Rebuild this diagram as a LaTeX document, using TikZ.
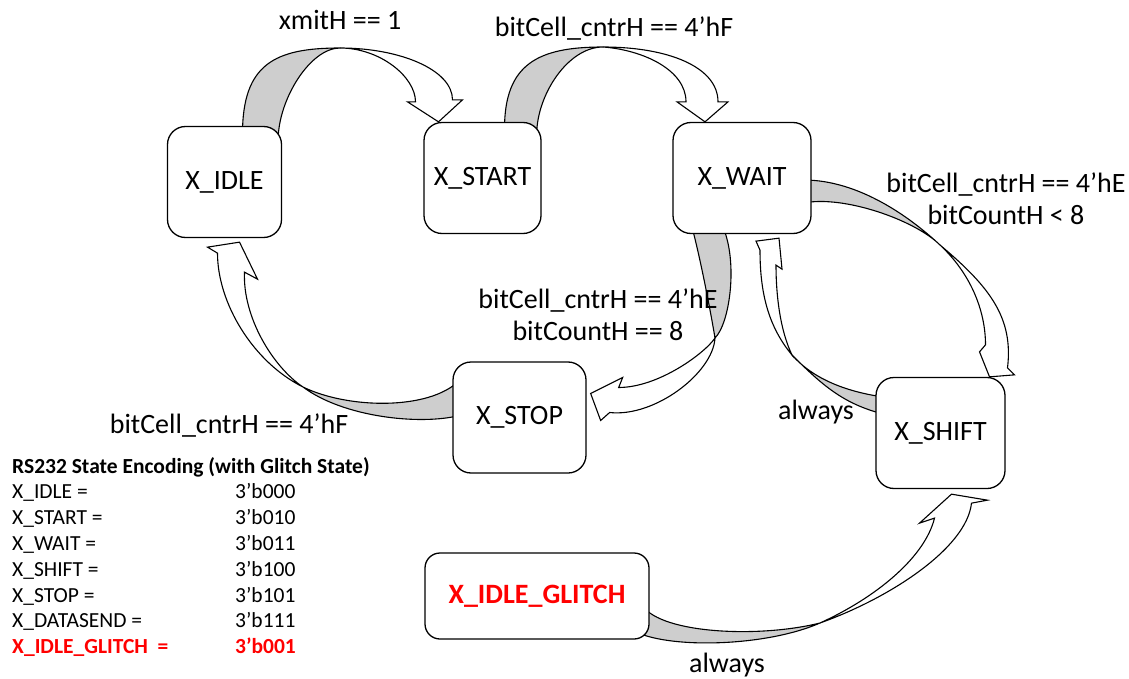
\documentclass[tikz,border=0pt]{standalone}
\usepackage{fontspec}
\setmainfont{Carlito}
\usetikzlibrary{positioning,calc,backgrounds}
\definecolor{bandgray}{RGB}{206,206,206}

\begin{document}
\begin{tikzpicture}[x=1pt,y=-1pt]

\tikzset{every node/.style = {font=\fontsize{28}{32}\selectfont}}
\tikzstyle{state} = [rectangle, draw, fill=white, rounded corners=18pt, line width=1.3pt, minimum width=114pt, minimum height=111pt, inner sep=0pt]
\tikzstyle{band} = [draw, fill=bandgray, line width=1.1pt, line join=round]
\tikzstyle{head} = [draw, fill=white, line width=1.1pt, line join=miter]

\useasboundingbox (0,0) rectangle (1129,679);

\node[state]                                    (idle)   at (224.5,182) {X\_IDLE};
\node[state, minimum width=117pt]               (start)  at (482.5,178) {X\_START};
\node[state, minimum width=138pt]               (wait)   at (742,178)   {X\_WAIT};
\node[state, minimum width=133pt]               (stop)   at (519.5,417.5) {X\_STOP};
\node[state, minimum width=129pt]               (shift)  at (940.5,433) {X\_SHIFT};
\node[state, minimum width=224pt, minimum height=86pt, rounded corners=15pt,
      text=red, font=\fontsize{28}{32}\selectfont\bfseries] (glitch) at (537,596) {X\_IDLE\_GLITCH};

\node                (l_xmit)  at (340,20)  {xmitH == 1};
\node                (l_start) at (614,29)  {bitCell\_cntrH == 4’hF};
\node[align=center]  (l_shift) at (1006,199) {bitCell\_cntrH == 4’hE\\bitCountH < 8};
\node[align=center]  (l_stop)  at (598,315) {bitCell\_cntrH == 4’hE\\bitCountH == 8};
\node                (l_idle)  at (229,426) {bitCell\_cntrH == 4’hF};
\node                (l_back)  at (816,412) {always};
\node                (l_glt)   at (727,665) {always};

\node[anchor=base west, inner sep=0pt, font=\fontsize{21.5}{25.8}\selectfont] (enc) at (12,473)
  {\begin{tabular}[t]{@{}p{223pt}@{}l@{}}
   \multicolumn{2}{@{}l@{}}{\bfseries RS232 State Encoding (with Glitch State)}\\
   X\_IDLE =      & 3’b000\\
   X\_START =     & 3’b010\\
   X\_WAIT =      & 3’b011\\
   X\_SHIFT =     & 3’b100\\
   X\_STOP =      & 3’b101\\
   X\_DATASEND =  & 3’b111\\
   \textcolor{red}{\bfseries X\_IDLE\_GLITCH\ \ =} & \textcolor{red}{\bfseries 3’b001}
   \end{tabular}};

% band ends and arrow heads
\coordinate (a1s1) at ($(idle.north)+(18,8)$);
\coordinate (a1s2) at ($(idle.north east)+(-4,14)$);
\coordinate (a1x)  at (340,48);
\coordinate (a1t)  at ($(start.north)+(-44,0)$);
\coordinate (a1h1) at ($(a1t)+(-23,-20)$);
\coordinate (a1b1) at ($(a1t)+(-31,-20)$);
\coordinate (a1b2) at ($(a1t)+(24,-22)$);
\coordinate (a1h2) at ($(a1t)+(14,-22)$);

\coordinate (a2s1) at ($(start.north)+(22,7)$);
\coordinate (a2s2) at ($(start.north east)+(-5,13)$);
\coordinate (a2x)  at (603,47);
\coordinate (a2t)  at ($(wait.north)+(-37,0)$);
\coordinate (a2h1) at ($(a2t)+(-19,-20)$);
\coordinate (a2b1) at ($(a2t)+(-28,-20)$);
\coordinate (a2b2) at ($(a2t)+(23,-20)$);
\coordinate (a2h2) at ($(a2t)+(13,-20)$);

\coordinate (a3s1) at ($(wait.east)+(-8,2)$);
\coordinate (a3s2) at ($(wait.east)+(-8,25)$);
\coordinate (a3x)  at (940,245);
\coordinate (a3t)  at ($(shift.north)+(49,0)$);
\coordinate (a3h1) at ($(a3t)+(-4,-32)$);
\coordinate (a3b1) at ($(a3t)+(-10,-25)$);
\coordinate (a3b2) at ($(a3t)+(25,-2)$);
\coordinate (a3h2) at ($(a3t)+(18,-9)$);

\coordinate (a4s1) at ($(shift.west)+(8,-36)$);
\coordinate (a4s2) at ($(shift.west)+(8,-19)$);
\coordinate (a4x)  at (792,355);
\coordinate (a4t)  at ($(wait.south)+(37,4)$);
\coordinate (a4h1) at ($(a4t)+(-19,12)$);
\coordinate (a4b1) at ($(a4t)+(-23,3)$);
\coordinate (a4b2) at ($(a4t)+(3,31)$);
\coordinate (a4h2) at ($(a4t)+(-3,27)$);

\coordinate (a5s1) at ($(wait.south)+(-50,-7)$);
\coordinate (a5s2) at ($(wait.south)+(-19,-7)$);
\coordinate (a5x)  at (715,338);
\coordinate (a5t)  at ($(stop.east)+(4,-24)$);
\coordinate (a5h1) at ($(a5t)+(28,-6)$);
\coordinate (a5b1) at ($(a5t)+(32,-16)$);
\coordinate (a5b2) at ($(a5t)+(10,27)$);
\coordinate (a5h2) at ($(a5t)+(19,19)$);

\coordinate (a6s1) at ($(stop.west)+(7,-37)$);
\coordinate (a6s2) at ($(stop.west)+(7,-2)$);
\coordinate (a6x)  at (303,387);
\coordinate (a6t)  at ($(idle.south)+(15,4)$);
\coordinate (a6h1) at ($(a6t)+(-22,11)$);
\coordinate (a6b1) at ($(a6t)+(-32,5)$);
\coordinate (a6b2) at ($(a6t)+(18,37)$);
\coordinate (a6h2) at ($(a6t)+(5,30)$);

\coordinate (a7s1) at ($(glitch.east)+(-7,10)$);
\coordinate (a7s2) at ($(glitch.east)+(-9,38)$);
\coordinate (a7x)  at (820,623);
\coordinate (a7t)  at ($(shift.south)+(11,5)$);
\coordinate (a7h1) at ($(a7t)+(-17,24)$);
\coordinate (a7b1) at ($(a7t)+(-32,29)$);
\coordinate (a7b2) at ($(a7t)+(36,6)$);
\coordinate (a7h2) at ($(a7t)+(20,9)$);

\begin{scope}[on background layer]
% idle -> start
\draw[band] (a1s1) .. controls +(0,-70) and +(-65,0) .. (a1x) .. controls +(-30,0) and +(0,-40) .. (a1s2) -- cycle;
\draw[head] (a1x) .. controls +(40,0) and +(0,-25) .. (a1h1) -- (a1b1) -- (a1t) -- (a1b2) -- (a1h2) .. controls +(0,-30) and +(60,0) .. (a1x) -- cycle;
% start -> wait
\draw[band] (a2s1) .. controls +(0,-65) and +(-65,0) .. (a2x) .. controls +(-35,0) and +(0,-40) .. (a2s2) -- cycle;
\draw[head] (a2x) .. controls +(40,3) and +(0,-32) .. (a2h1) -- (a2b1) -- (a2t) -- (a2b2) -- (a2h2) .. controls +(0,-35) and +(65,0) .. (a2x) -- cycle;
% wait -> shift
\draw[band] (a3s1) .. controls +(55,0) and +(-30,-28) .. (a3x) .. controls +(-25,-25) and +(40,-8) .. (a3s2) -- cycle;
\draw[head] (a3x) .. controls +(30,28) and +(0,-35) .. (a3h1) -- (a3b1) -- (a3t) -- (a3b2) -- (a3h2) .. controls +(6,-50) and +(50,42) .. (a3x) -- cycle;
% shift -> wait
\draw[band] (a4s1) .. controls +(-35,-5) and +(22,25) .. (a4x) .. controls +(30,30) and +(-40,-10) .. (a4s2) -- cycle;
\draw[head] (a4x) .. controls +(-25,-30) and +(0,40) .. (a4h1) -- (a4b1) -- (a4t) -- (a4b2) -- (a4h2) .. controls +(0,30) and +(-12,-25) .. (a4x) -- cycle;
% wait -> stop
\draw[band] (a5s1) .. controls +(8,30) and +(-5,-30) .. (a5x) .. controls +(15,-15) and +(15,35) .. (a5s2) -- cycle;
\draw[head] (a5x) .. controls +(-10,15) and +(40,0) .. (a5h1) -- (a5b1) -- (a5t) -- (a5b2) -- (a5h2) .. controls +(45,5) and +(-2,35) .. (a5x) -- cycle;
% stop -> idle
\draw[band] (a6s1) .. controls +(-30,30) and +(45,22) .. (a6x) .. controls +(40,30) and +(-40,10) .. (a6s2) -- cycle;
\draw[head] (a6x) .. controls +(-50,-25) and +(0,50) .. (a6h1) -- (a6b1) -- (a6t) -- (a6b2) -- (a6h2) .. controls +(-2,45) and +(-30,-20) .. (a6x) -- cycle;
% glitch -> shift
\draw[band] (a7s1) .. controls +(20,28) and +(-60,15) .. (a7x) .. controls +(-50,22) and +(40,15) .. (a7s2) -- cycle;
\draw[head] (a7x) .. controls +(55,-25) and +(-10,40) .. (a7h1) -- (a7b1) -- (a7t) -- (a7b2) -- (a7h2) .. controls +(-5,45) and +(70,-25) .. (a7x) -- cycle;
\end{scope}

\end{tikzpicture}
\end{document}
